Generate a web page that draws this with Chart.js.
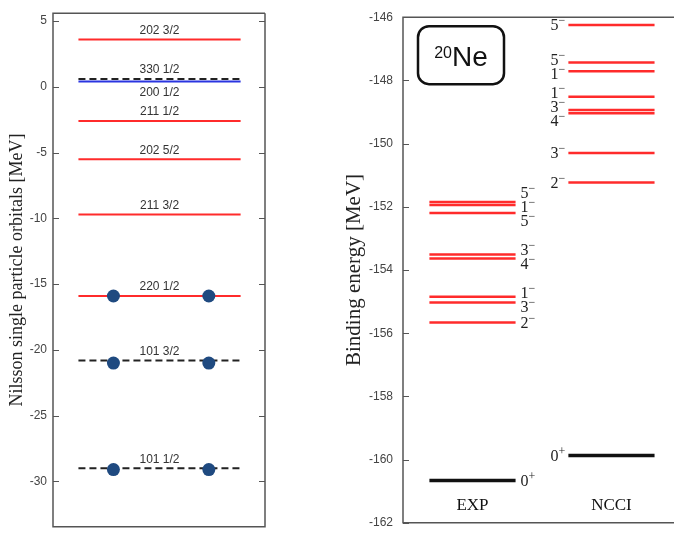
<!DOCTYPE html>
<html>
<head>
<meta charset="utf-8">
<script src="https://cdn.jsdelivr.net/npm/chart.js@4.4.1/dist/chart.umd.min.js"></script>
<style>
    html, body { margin: 0; padding: 0; background: #fff; overflow: hidden; }
    #leftBox { position: absolute; left: 0; top: 0; width: 290px; height: 540px; }
    #rightBox { position: absolute; left: 290px; top: 0; width: 384px; height: 540px; }
</style>
</head>
<body>
<div id="leftBox"><canvas id="nilssonChart"></canvas></div>
<div id="rightBox"><canvas id="levelChart"></canvas></div>
<script>
// Nilsson single particle orbitals (left panel)
const orbitalNames = ['202 3/2', '330 1/2', '200 1/2', '211 1/2', '202 5/2', '211 3/2', '220 1/2', '101 3/2', '101 1/2'];
const orbitalEnergy = [3.6, 0.6, 0.4, -2.6, -5.5, -9.7, -15.9, -20.8, -29.0];
const occupiedEnergy = [-15.9, -21.0, -29.1];
const orbitalTicks = [5, 0, -5, -10, -15, -20, -25, -30];

// 20Ne levels (right panel)
const columns = ['EXP', 'NCCI'];
const expEnergy = [-151.85, -151.94, -152.2, -153.51, -153.64, -154.85, -155.03, -155.66, -160.66];
const expSpin = ['5-', '1-', '5-', '3-', '4-', '1-', '3-', '2-', '0+'];
const ncciEnergy = [-146.25, -147.43, -147.71, -148.52, -148.94, -149.04, -150.3, -151.23, -159.87];
const ncciSpin = ['5-', '5-', '1-', '1-', '3-', '4-', '3-', '2-', '0+'];
const energyTicks = [-146, -148, -150, -152, -154, -156, -158, -160, -162];

// look of the orbital lines, red when not listed
const orbitalStyle = {
    '330 1/2': { color: '#222', dash: [7, 4] },
    '200 1/2': { color: '#2a35e0', below: true },
    '101 3/2': { color: '#222', dash: [7, 4] },
    '101 1/2': { color: '#222', dash: [7, 4] }
};
const RED = '#ff2b2b';
const LINE_FROM = 1.2, LINE_TO = 8.85;
const DOT_X = [2.85, 7.35];
const HALF = 0.31;

const tickFont = { family: '"Liberation Sans", sans-serif', size: 12 };

// box + inward ticks
const framePlugin = {
    id: 'frame',
    afterDraw(chart, args, opts) {
        const { ctx, chartArea: a } = chart;
        const y = chart.scales.y;
        ctx.save();
        ctx.strokeStyle = '#555';
        ctx.lineWidth = 1.5;
        ctx.beginPath();
        ctx.moveTo(a.right, a.top);
        ctx.lineTo(a.left, a.top);
        ctx.lineTo(a.left, a.bottom);
        ctx.lineTo(a.right, a.bottom);
        if (opts.right) ctx.lineTo(a.right, a.top);
        ctx.stroke();
        ctx.lineWidth = 1;
        ctx.beginPath();
        y.ticks.forEach(t => {
            const py = Math.round(y.getPixelForValue(t.value)) + 0.5;
            ctx.moveTo(a.left, py);
            ctx.lineTo(a.left + 6, py);
            if (opts.right) {
                ctx.moveTo(a.right, py);
                ctx.lineTo(a.right - 6, py);
            }
        });
        ctx.stroke();
        ctx.restore();
    }
};

// orbital names above each line
const orbitalLabels = {
    id: 'orbitalLabels',
    afterDatasetsDraw(chart) {
        const { ctx, scales } = chart;
        const cx = scales.x.getPixelForValue((LINE_FROM + LINE_TO) / 2);
        ctx.save();
        ctx.font = '12px "Liberation Sans", sans-serif';
        ctx.fillStyle = '#333';
        ctx.textAlign = 'center';
        ctx.textBaseline = 'middle';
        orbitalNames.forEach((name, i) => {
            const st = orbitalStyle[name] || {};
            const py = scales.y.getPixelForValue(orbitalEnergy[i]);
            ctx.fillText(name, cx, st.below ? py + 11 : py - 9);
        });
        ctx.restore();
    }
};

// push labels apart so they do not overlap
function spread(ys, gap) {
    let groups = ys.map(y => ({ sum: y, n: 1 }));
    let merged = true;
    while (merged) {
        merged = false;
        for (let i = 0; i < groups.length - 1; i++) {
            const a = groups[i], b = groups[i + 1];
            const aEnd = a.sum / a.n + (a.n - 1) * gap / 2;
            const bStart = b.sum / b.n - (b.n - 1) * gap / 2;
            if (bStart - aEnd < gap) {
                groups.splice(i, 2, { sum: a.sum + b.sum, n: a.n + b.n });
                merged = true;
                break;
            }
        }
    }
    const out = [];
    groups.forEach(g => {
        const c = g.sum / g.n;
        for (let k = 0; k < g.n; k++) out.push(c - (g.n - 1) * gap / 2 + k * gap);
    });
    return out;
}

function drawSpin(ctx, spin, x, y, align) {
    const digit = spin[0];
    const sign = spin[1] === '-' ? '\u2212' : '+';
    ctx.font = '16px "Liberation Serif", serif';
    const dw = ctx.measureText(digit).width;
    ctx.font = '12px "Liberation Serif", serif';
    const sw = ctx.measureText(sign).width;
    const x0 = align === 'right' ? x - dw - sw : x;
    ctx.font = '16px "Liberation Serif", serif';
    ctx.fillText(digit, x0, y);
    ctx.font = '12px "Liberation Serif", serif';
    ctx.fillText(sign, x0 + dw, y - 5);
}

const levelLabels = {
    id: 'levelLabels',
    afterDatasetsDraw(chart) {
        const { ctx, scales, chartArea } = chart;
        ctx.save();
        ctx.fillStyle = '#222';
        ctx.textAlign = 'left';
        ctx.textBaseline = 'middle';
        [[expEnergy, expSpin, 0, 'left'], [ncciEnergy, ncciSpin, 1, 'right']].forEach(([en, sp, col, side]) => {
            const ys = spread(en.map(e => scales.y.getPixelForValue(e)), 14);
            const x = side === 'left'
                ? scales.x.getPixelForValue(col + HALF) + 5
                : scales.x.getPixelForValue(col - HALF) - 3;
            sp.forEach((s, i) => drawSpin(ctx, s, x, ys[i] + 1, side));
        });

        // column names
        ctx.font = '17px "Liberation Serif", serif';
        ctx.fillStyle = '#111';
        ctx.textAlign = 'center';
        columns.forEach((c, i) => {
            ctx.fillText(c, scales.x.getPixelForValue(i), chartArea.bottom - 17);
        });

        // nucleus box
        const bx = chartArea.left + 15, by = chartArea.top + 9, bw = 86, bh = 58;
        ctx.lineWidth = 2.5;
        ctx.strokeStyle = '#111';
        ctx.beginPath();
        ctx.roundRect(bx, by, bw, bh, 11);
        ctx.stroke();
        ctx.fillStyle = '#111';
        ctx.textAlign = 'left';
        ctx.textBaseline = 'alphabetic';
        ctx.font = '16px "Liberation Sans", sans-serif';
        const w20 = ctx.measureText('20').width;
        ctx.font = '28px "Liberation Sans", sans-serif';
        const wNe = ctx.measureText('Ne').width;
        const tx = bx + (bw - w20 - wNe) / 2;
        ctx.fillText('Ne', tx + w20, by + 40);
        ctx.font = '16px "Liberation Sans", sans-serif';
        ctx.fillText('20', tx, by + 32);
        ctx.restore();
    }
};

document.addEventListener('DOMContentLoaded', function() {
    // Left panel
    const orbitalSets = [{
        type: 'scatter',
        data: occupiedEnergy.flatMap(e => DOT_X.map(x => ({ x: x, y: e }))),
        pointRadius: 6.5,
        pointBackgroundColor: '#1f4a80',
        pointBorderWidth: 0,
        showLine: false
    }];
    orbitalNames.forEach((name, i) => {
        const st = orbitalStyle[name] || {};
        orbitalSets.push({
            data: [{ x: LINE_FROM, y: orbitalEnergy[i] }, { x: LINE_TO, y: orbitalEnergy[i] }],
            borderColor: st.color || RED,
            borderWidth: 2,
            borderDash: st.dash || [],
            pointRadius: 0
        });
    });

    new Chart(document.getElementById('nilssonChart'), {
        type: 'line',
        data: { datasets: orbitalSets },
        options: {
            responsive: true,
            maintainAspectRatio: false,
            animation: false,
            layout: { padding: { top: 9, bottom: 10, right: 25, left: 0 } },
            plugins: { legend: { display: false }, tooltip: { enabled: false }, frame: { right: true } },
            scales: {
                x: { type: 'linear', min: 0, max: 10, display: false },
                y: {
                    min: -33.45,
                    max: 5.6,
                    afterBuildTicks: s => { s.ticks = orbitalTicks.map(v => ({ value: v })); },
                    afterFit: s => { s.width = 53; },
                    grid: { display: false, drawTicks: false },
                    border: { display: false },
                    ticks: { font: tickFont, color: '#444', padding: 6 },
                    title: {
                        display: true,
                        text: 'Nilsson single particle orbitals [MeV]',
                        font: { family: '"Liberation Serif", serif', size: 18 },
                        color: '#222',
                        padding: { top: 6, bottom: 0 }
                    }
                }
            }
        },
        plugins: [framePlugin, orbitalLabels]
    });

    // Right panel
    const levelSets = [];
    [[expEnergy, expSpin], [ncciEnergy, ncciSpin]].forEach(([en, sp], col) => {
        en.forEach((e, i) => {
            const plus = sp[i][1] === '+';
            levelSets.push({
                data: [{ x: col - HALF, y: e }, { x: col + HALF, y: e }],
                borderColor: plus ? '#111' : RED,
                borderWidth: plus ? 3.5 : 2.5,
                pointRadius: 0
            });
        });
    });

    new Chart(document.getElementById('levelChart'), {
        type: 'line',
        data: { datasets: levelSets },
        options: {
            responsive: true,
            maintainAspectRatio: false,
            animation: false,
            layout: { padding: { top: 11, bottom: 10, right: 0, left: 0 } },
            plugins: { legend: { display: false }, tooltip: { enabled: false }, frame: { right: false } },
            scales: {
                x: { type: 'linear', min: -0.5, max: 1.45, display: false },
                y: {
                    min: -162,
                    max: -146,
                    afterBuildTicks: s => { s.ticks = energyTicks.map(v => ({ value: v })); },
                    afterFit: s => { s.width = 113; },
                    grid: { display: false, drawTicks: false },
                    border: { display: false },
                    ticks: { font: tickFont, color: '#444', padding: 10 },
                    title: {
                        display: true,
                        text: 'Binding energy [MeV]',
                        font: { family: '"Liberation Serif", serif', size: 21 },
                        color: '#222',
                        padding: { top: 52, bottom: 0 }
                    }
                }
            }
        },
        plugins: [framePlugin, levelLabels]
    });
});
</script>
</body>
</html>
